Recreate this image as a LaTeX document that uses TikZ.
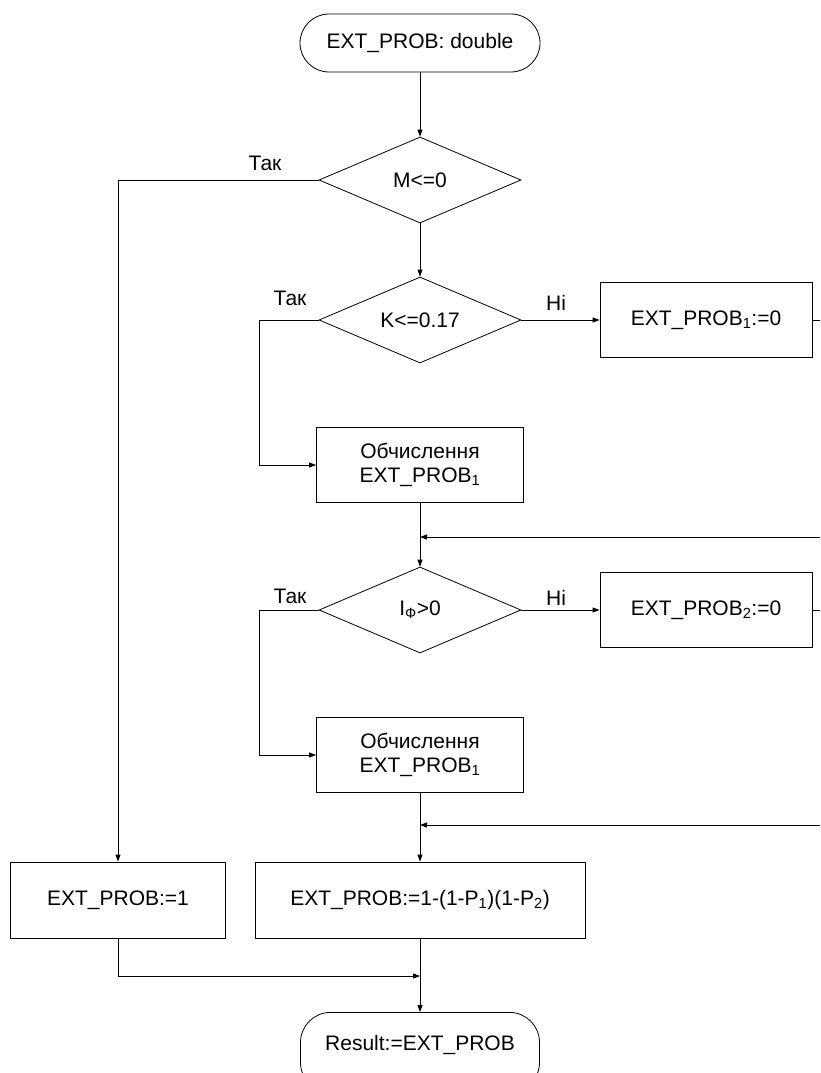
\documentclass[tikz,border=0pt]{standalone}
\usepackage{fontspec}
\setmainfont{Liberation Sans}
\usetikzlibrary{shapes.geometric,arrows.meta}
\begin{document}
\begin{tikzpicture}[x=1pt,y=-1pt,
  every node/.style={font=\fontsize{21}{24}\selectfont},
  term/.style={draw, rounded corners=29pt, minimum width=240pt, minimum height=58pt, inner sep=0pt},
  proc/.style={draw, minimum height=75pt, inner sep=0pt, align=center},
  dec/.style={draw, diamond, aspect=2.35, minimum width=202pt, minimum height=86pt, inner sep=0pt},
  lbl/.style={inner sep=0pt},
  flow/.style={-{Triangle[length=7pt,width=5pt]}},
  line width=0.8pt]
\useasboundingbox (0,0) rectangle (820,1073);
\clip (0,0) rectangle (820,1073);

\node[term] (start) at (420,43) {EXT\_PROB: double};
\node[dec] (d1) at (420,180) {M<=0};
\node[dec] (d2) at (420,320) {K<=0.17};
\node[proc, minimum width=212pt] (b1) at (706,320) {EXT\_PROB\textsubscript{1}:=0};
\node[proc, minimum width=207pt] (c1) at (420,465) {Обчислення\\EXT\_PROB\textsubscript{1}};
\node[dec] (d3) at (420,610) {I\textsubscript{Ф}>0};
\node[proc, minimum width=212pt] (b2) at (706,610) {EXT\_PROB\textsubscript{2}:=0};
\node[proc, minimum width=207pt] (c2) at (420,755) {Обчислення\\EXT\_PROB\textsubscript{1}};
\node[proc, minimum width=215pt, minimum height=76pt] (e1) at (118,900) {EXT\_PROB:=1};
\node[proc, minimum width=330pt, minimum height=76pt] (e2) at (420,900) {EXT\_PROB:=1-(1-P\textsubscript{1})(1-P\textsubscript{2})};
\node[term, minimum width=239pt, minimum height=80pt, rounded corners=30pt, text height=15pt, text depth=18pt, anchor=north] (end) at (420,1012) {Result:=EXT\_PROB};

\node[lbl] (t1) at (265,163) {Так};
\node[lbl] (t2) at (290,298) {Так};
\node[lbl] (n2) at (556,303) {Ні};
\node[lbl] (t3) at (290,596) {Так};
\node[lbl] (n3) at (556,598) {Ні};

\coordinate (r1) at (830,320);
\coordinate (r1b) at (830,537);
\coordinate (m1) at (420,537);
\coordinate (r2) at (830,610);
\coordinate (r2b) at (830,825);
\coordinate (m2) at (420,825);
\coordinate (j) at (420,976);
\coordinate (k2) at (259,320);
\coordinate (k3) at (259,610);

\draw[flow] (start) -- (d1);
\draw[flow] (d1.west) -| (e1.north);
\draw[flow] (d1) -- (d2);
\draw[flow] (d2.west) -- (k2) |- (c1.west);
\draw[flow] (d2.east) -- (b1.west);
\draw (b1.east) -- (r1) -- (r1b);
\draw[flow] (r1b) -- (m1);
\draw[flow] (c1) -- (d3);
\draw[flow] (d3.west) -- (k3) |- (c2.west);
\draw[flow] (d3.east) -- (b2.west);
\draw (b2.east) -- (r2) -- (r2b);
\draw[flow] (r2b) -- (m2);
\draw[flow] (c2) -- (e2);
\draw[flow] (e1.south) |- (j);
\draw[flow] (e2) -- (end);
\end{tikzpicture}
\end{document}
